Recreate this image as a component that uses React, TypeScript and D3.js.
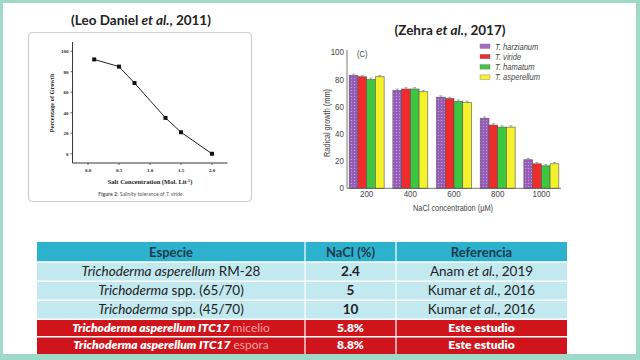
import React from "react";
import * as d3 from "d3";

// ---- Left chart (Leo Daniel et al., 2011) ----
const salt = [0.1, 0.5, 0.75, 1.25, 1.5, 2.0];
const growthPct = [92, 85, 69, 35, 21, 0];
const saltTicks = [0, 0.5, 1.0, 1.5, 2.0];
const pctTicks = [0, 20, 40, 60, 80, 100];

// ---- Right chart (Zehra et al., 2017) ----
const naclConc = ["200", "400", "600", "800", "1000"];
const speciesNames = ["T. harzianum", "T. viride", "T. hamatum", "T. asperellum"];
const harzianum = [83, 72, 67, 51.5, 21];
const viride = [82, 73, 66, 46.5, 18];
const hamatum = [80, 73, 64, 45, 16.5];
const asperellum = [82, 71, 63, 45, 18];
const errH = [1, 1, 1, 1, 1];
const errV = [1, 1, 1, 1, 1];
const errHa = [1, 1, 1, 1, 1];
const errA = [1, 1, 1, 1, 1];
const radialTicks = [0, 20, 40, 60, 80, 100];

// ---- Table ----
const tblHeader = ["Especie", "NaCl (%)", "Referencia"];
const tblGenus = ["Trichoderma asperellum", "Trichoderma", "Trichoderma", "Trichoderma asperellum ITC17", "Trichoderma asperellum ITC17"];
const tblStrain = [" RM-28", " spp. (65/70)", " spp. (45/70)", " micelio", " espora"];
const tblNaCl = ["2.4", "5", "10", "5.8%", "8.8%"];
const tblRefA = ["Anam ", "Kumar ", "Kumar ", "Este estudio", "Este estudio"];
const tblRefB = ["et al.", "et al.", "et al.", "", ""];
const tblRefC = [", 2019", ", 2016", ", 2016", "", ""];
const tblHighlight = [false, false, false, true, true];

const SANS = "Lato, 'Open Sans', sans-serif";
const SERIF = "'Liberation Serif', 'DejaVu Serif', serif";
const NARROW = "'Liberation Sans', Arial, sans-serif";

function NText(props: { x: number; y: number; anchor?: string; size: number; italic?: boolean; rotate?: number; children: React.ReactNode }) {
  const { x, y, anchor, size, italic, rotate, children } = props;
  return (
    <text
      transform={`translate(${x},${y})${rotate ? ` rotate(${rotate})` : ""} scale(0.84,1)`}
      textAnchor={anchor || "start"}
      fontFamily={NARROW}
      fontStyle={italic ? "italic" : "normal"}
      fontSize={size}
      fill="#444"
    >
      {children}
    </text>
  );
}

function LeftChart() {
  const x = d3.scaleLinear().domain([-0.25, 2.25]).range([72.5, 227.5]);
  const y = d3.scaleLinear().domain([-9, 109]).range([163, 42]);
  const line = d3.line<number>().x((_, i) => x(salt[i])).y((d) => y(d));
  return (
    <g>
      <text x={141} y={25} textAnchor="middle" fontFamily={SANS} fontWeight={700} fontSize={13.5} fill="#222">
        (Leo Daniel <tspan fontStyle="italic">et al.</tspan>, 2011)
      </text>
      <rect x={28.5} y={32.5} width={223} height={169} rx={4} fill="#fff" stroke="#cfcfcf" strokeWidth={1.2} />
      <line x1={x(-0.25)} x2={x(-0.25)} y1={y(109)} y2={y(-9)} stroke="#222" strokeWidth={0.9} />
      <line x1={x(-0.25)} x2={x(2.25)} y1={y(-9)} y2={y(-9)} stroke="#222" strokeWidth={0.9} />
      {pctTicks.map((t) => (
        <g key={"yt" + t}>
          <line x1={x(-0.25) - 2} x2={x(-0.25)} y1={y(t)} y2={y(t)} stroke="#222" strokeWidth={0.7} />
          <text x={x(-0.25) - 4} y={y(t) + 1.8} textAnchor="end" fontFamily={SERIF} fontWeight={700} fontSize={5} fill="#222">
            {t}
          </text>
        </g>
      ))}
      {saltTicks.map((t) => (
        <g key={"xt" + t}>
          <line x1={x(t)} x2={x(t)} y1={y(-9)} y2={y(-9) + 2} stroke="#222" strokeWidth={0.7} />
          <text x={x(t)} y={y(-9) + 9} textAnchor="middle" fontFamily={SERIF} fontWeight={700} fontSize={5} fill="#222">
            {d3.format(".1f")(t)}
          </text>
        </g>
      ))}
      <text transform={`translate(54,103) rotate(-90)`} textAnchor="middle" fontFamily={SERIF} fontWeight={700} fontSize={6.3} fill="#222">
        Percentage of Growth
      </text>
      <text x={150} y={184} textAnchor="middle" fontFamily={SERIF} fontWeight={700} fontSize={6.5} fill="#222">
        Salt Concentration (Mol. Lit<tspan dy={-2.5} fontSize={4}>-1</tspan><tspan dy={2.5}>)</tspan>
      </text>
      <text x={141} y={196} textAnchor="middle" fontFamily={SANS} fontSize={5.2} fill="#555">
        <tspan fontWeight={700}>Figure 2:</tspan> Salinity tolerance of <tspan fontStyle="italic">T. viride</tspan>.
      </text>
      <path d={line(growthPct) || ""} fill="none" stroke="#222" strokeWidth={1} />
      {growthPct.map((v, i) => (
        <rect key={"m" + i} x={x(salt[i]) - 2} y={y(v) - 2} width={4} height={4} fill="#111" />
      ))}
    </g>
  );
}

function RightChart() {
  const x0 = d3.scaleBand().domain(naclConc).range([347, 561]).paddingInner(0.2).paddingOuter(0.05);
  const x1 = d3.scaleBand().domain(speciesNames).range([0, x0.bandwidth()]).padding(0);
  const y = d3.scaleLinear().domain([0, 100]).range([188.3, 52.3]);
  const series = [harzianum, viride, hamatum, asperellum];
  const errs = [errH, errV, errHa, errA];
  const colors = ["url(#purpleHatch)", "#ef2b2b", "#3fc63f", "#f4f22a"];
  const legendColors = ["#a26cc4", "#ef2b2b", "#3fc63f", "#f4f22a"];
  return (
    <g>
      <defs>
        <pattern id="purpleHatch" width={3} height={3} patternUnits="userSpaceOnUse">
          <rect width={3} height={3} fill="#9a5fbd" />
          <rect x={0} y={0} width={1} height={1} fill="#c39ad8" />
          <rect x={1.5} y={1.5} width={1} height={1} fill="#7d4aa0" />
        </pattern>
      </defs>
      <text x={450} y={35} textAnchor="middle" fontFamily={SANS} fontWeight={700} fontSize={13.5} fill="#222">
        (Zehra <tspan fontStyle="italic">et al.</tspan>, 2017)
      </text>
      <NText x={357} y={57} size={9}>(C)</NText>
      {naclConc.map((c, gi) =>
        series.map((s, si) => {
          const bx = (x0(c) || 0) + (x1(speciesNames[si]) || 0);
          const bw = x1.bandwidth();
          const top = y(s[gi]);
          const cx = bx + bw / 2;
          const eTop = y(s[gi] + errs[si][gi]);
          return (
            <g key={c + si}>
              <rect x={bx} y={top} width={bw} height={y(0) - top} fill={colors[si]} stroke="#555" strokeWidth={0.6} />
              <line x1={cx} x2={cx} y1={top} y2={eTop} stroke="#777" strokeWidth={0.6} />
              <line x1={cx - 1.5} x2={cx + 1.5} y1={eTop} y2={eTop} stroke="#777" strokeWidth={0.6} />
            </g>
          );
        })
      )}
      <line x1={347} x2={347} y1={50} y2={y(0)} stroke="#555" strokeWidth={0.8} />
      <line x1={347} x2={561} y1={y(0)} y2={y(0)} stroke="#555" strokeWidth={0.8} />
      {radialTicks.map((t) => (
        <NText key={"ry" + t} x={344} y={y(t) + 3} anchor="end" size={9.5}>
          {t}
        </NText>
      ))}
      {naclConc.map((c) => (
        <NText key={"rx" + c} x={(x0(c) || 0) + x0.bandwidth() / 2} y={197} anchor="middle" size={9.5}>
          {c}
        </NText>
      ))}
      <NText x={453} y={211} anchor="middle" size={8.8}>
        NaCl concentration (µM)
      </NText>
      <NText x={330} y={123} anchor="middle" size={8.8} rotate={-90}>
        Radical growth (mm)
      </NText>
      {speciesNames.map((n, i) => (
        <g key={"lg" + n}>
          <rect x={480} y={44 + i * 10.3} width={10} height={4.5} fill={legendColors[i]} stroke="#777" strokeWidth={0.4} />
          <NText x={495} y={49.5 + i * 10.3} size={9} italic>
            {n}
          </NText>
        </g>
      ))}
    </g>
  );
}

function Table() {
  const colX = [37, 305, 396, 567];
  const rowY = [242, 262, 281.3, 300.3, 319.3, 336.8, 354];
  const cx = [(colX[0] + colX[1]) / 2, (colX[1] + colX[2]) / 2, (colX[2] + colX[3]) / 2];
  return (
    <g fontFamily={SANS}>
      <rect x={colX[0]} y={rowY[0]} width={colX[3] - colX[0]} height={rowY[1] - rowY[0]} fill="#2cb2cc" />
      {tblHeader.map((h, i) => (
        <text key={h} x={cx[i]} y={(rowY[0] + rowY[1]) / 2 + 4.5} textAnchor="middle" fontWeight={700} fontSize={13} fill="#1d3a4c">
          {h}
        </text>
      ))}
      {tblGenus.map((g, r) => {
        const hl = tblHighlight[r];
        const y0 = rowY[r + 1];
        const y1 = rowY[r + 2];
        const ty = (y0 + y1) / 2 + 4.3;
        return (
          <g key={"row" + r}>
            <rect x={colX[0]} y={y0} width={colX[3] - colX[0]} height={y1 - y0} fill={hl ? "#d0141c" : "#c2e9f0"} />
            {hl ? (
              <text x={cx[0]} y={ty - 0.3} textAnchor="middle" fontSize={12} fill="#fff">
                <tspan fontWeight={800} fontStyle="italic">{g}</tspan>
                <tspan fill="#f6a3a3">{tblStrain[r]}</tspan>
              </text>
            ) : (
              <text x={cx[0]} y={ty} textAnchor="middle" fontSize={13.5} fill="#222">
                <tspan fontStyle="italic">{g}</tspan>
                <tspan>{tblStrain[r]}</tspan>
              </text>
            )}
            <text x={cx[1]} y={hl ? ty - 0.3 : ty} textAnchor="middle" fontWeight={hl ? 800 : 700} fontSize={hl ? 12 : 13.5} fill={hl ? "#fff" : "#222"}>
              {tblNaCl[r]}
            </text>
            <text x={cx[2]} y={hl ? ty - 0.3 : ty} textAnchor="middle" fontWeight={hl ? 800 : 400} fontSize={hl ? 12 : 13.5} fill={hl ? "#fff" : "#222"}>
              {tblRefA[r]}
              {tblRefB[r] ? <tspan fontStyle="italic">{tblRefB[r]}</tspan> : null}
              {tblRefC[r]}
            </text>
          </g>
        );
      })}
      {rowY.slice(1, 6).map((yy, i) => (
        <line key={"hl" + i} x1={colX[0]} x2={colX[3]} y1={yy} y2={yy} stroke="#fff" strokeWidth={1.5} />
      ))}
      {[colX[1], colX[2]].map((xx, i) => (
        <line key={"vl" + i} x1={xx} x2={xx} y1={rowY[0]} y2={rowY[6]} stroke="#fff" strokeWidth={1.2} />
      ))}
    </g>
  );
}

export default function App() {
  return (
    <svg
      width={640}
      height={360}
      viewBox="0 0 640 360"
      style={{ position: "fixed", left: 0, top: 0, display: "block" }}
    >
      <rect x={0} y={0} width={640} height={360} fill="#9fd9c8" />
      <rect x={3} y={3} width={633} height={351} fill="#fff" />
      <LeftChart />
      <RightChart />
      <Table />
    </svg>
  );
}
